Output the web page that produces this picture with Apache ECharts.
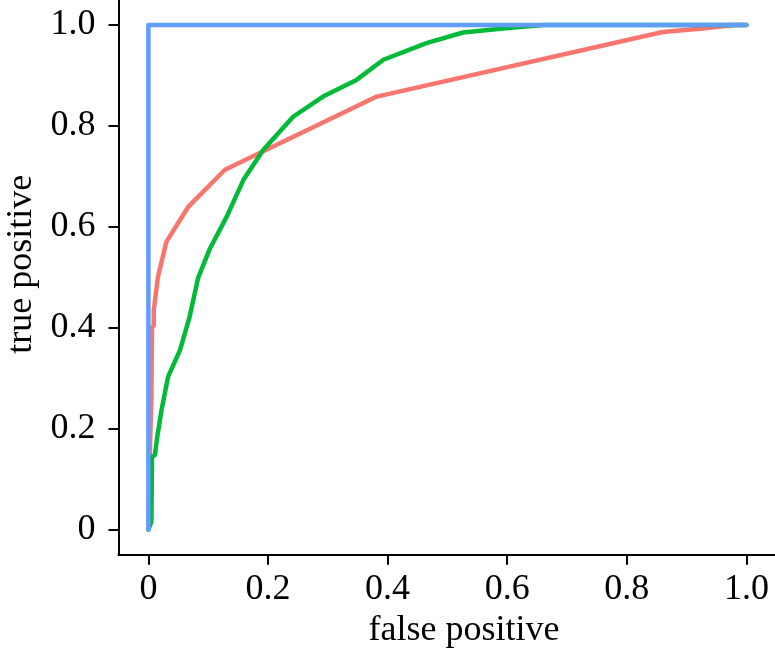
<!DOCTYPE html>
<html>
<head>
<meta charset="utf-8">
<script src="https://cdn.jsdelivr.net/npm/echarts@6/dist/echarts.min.js"></script>
<style>
html, body { margin: 0; padding: 0; background: #fff; }
#chart { width: 775px; height: 652px; }
</style>
</head>
<body>
<div id="chart"></div>
<script>
// ROC curves
var tickValues = [0, 0.2, 0.4, 0.6, 0.8, 1.0];

var redFpr = [0, 0.003, 0.005, 0.006, 0.009, 0.009, 0.016, 0.030, 0.067, 0.128, 0.382, 0.860, 0.927, 0.980, 1.0];
var redTpr = [0, 0.18, 0.26, 0.40, 0.405, 0.435, 0.501, 0.570, 0.640, 0.713, 0.858, 0.986, 0.993, 1.0, 1.0];

var greenFpr = [0, 0.005, 0.006, 0.011, 0.014, 0.022, 0.033, 0.053, 0.069, 0.083, 0.103, 0.131, 0.159, 0.192, 0.242, 0.292, 0.348, 0.393, 0.465, 0.526, 0.593, 0.66, 1.0];
var greenTpr = [0, 0.015, 0.144, 0.148, 0.177, 0.237, 0.303, 0.356, 0.422, 0.498, 0.557, 0.62, 0.693, 0.752, 0.818, 0.858, 0.891, 0.931, 0.964, 0.985, 0.993, 1.0, 1.0];

var blueFpr = [0, 0, 1.0];
var blueTpr = [0, 1.0, 1.0];

function pairs(xs, ys) {
    var out = [];
    for (var i = 0; i < xs.length; i++) out.push([xs[i], ys[i]]);
    return out;
}

function tickFmt(v) {
    return v === 0 ? "0" : v.toFixed(1);
}

var font = "Liberation Serif";
var chart = echarts.init(document.getElementById("chart"));

function axisBase() {
    return {
        type: "value",
        min: -0.05,
        max: 1.05,
        splitLine: { show: false },
        axisLine: { show: true, onZero: false, lineStyle: { color: "#000", width: 2 } },
        axisTick: {
            show: true,
            inside: false,
            length: 10,
            customValues: tickValues,
            lineStyle: { color: "#000", width: 2 }
        },
        nameLocation: "middle",
        nameTextStyle: { fontFamily: font, fontSize: 36, color: "#000" }
    };
}

var xAxis = axisBase();
xAxis.name = "false positive";
xAxis.nameGap = 58;
xAxis.nameTextStyle.padding = [0, 0, 0, 33];
xAxis.axisLabel = {
    customValues: tickValues,
    formatter: tickFmt,
    margin: 17,
    fontFamily: font,
    fontSize: 36,
    color: "#000"
};

var yAxis = axisBase();
yAxis.name = "true positive";
yAxis.nameGap = 78;
yAxis.nameRotate = 90;
yAxis.nameTextStyle.padding = [0, 0, 0, 26];
yAxis.axisLabel = {
    customValues: tickValues,
    formatter: tickFmt,
    margin: 23,
    fontFamily: font,
    fontSize: 36,
    color: "#000"
};

function line(data, color) {
    return {
        type: "line",
        data: data,
        showSymbol: false,
        symbol: "none",
        lineStyle: { color: color, width: 4.5, cap: "round", join: "round" }
    };
}

var option = {
    animation: false,
    backgroundColor: "#fff",
    grid: {
        left: 118.5, right: -1.3, top: -0.3, bottom: 97.3,
        containLabel: false,
        outerBoundsMode: "none"
    },
    xAxis: xAxis,
    yAxis: yAxis,
    series: [
        line(pairs(redFpr, redTpr), "#F8766D"),
        line(pairs(greenFpr, greenTpr), "#00BA38"),
        line(pairs(blueFpr, blueTpr), "#619CFF")
    ]
};
chart.setOption(option);
</script>
</body>
</html>
